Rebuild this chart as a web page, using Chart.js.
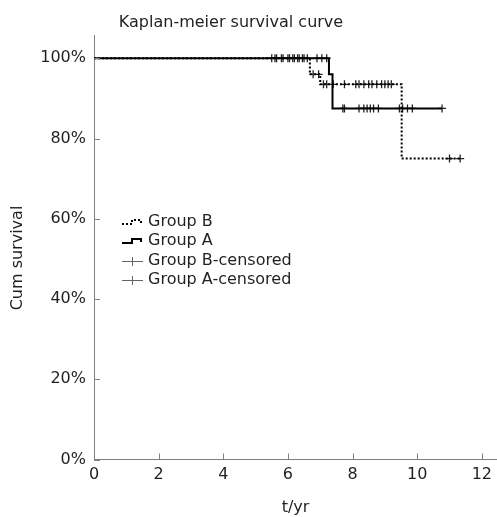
<!DOCTYPE html>
<html>
<head>
<meta charset="utf-8">
<script src="https://cdn.jsdelivr.net/npm/chart.js@4.4.0/dist/chart.umd.min.js"></script>
<style>
  html, body { margin: 0; padding: 0; background: #fff; }
  #wrap { width: 497px; height: 517px; }
</style>
</head>
<body>
<div id="wrap"><canvas id="km"></canvas></div>
<script>
// Kaplan-Meier steps (time in years, survival in %)
const groupBTime = [0, 6.68, 7.0, 9.52, 11.35];
const groupBSurv = [100, 96, 93.5, 75, 75];
const groupATime = [0, 7.27, 7.38, 10.77];
const groupASurv = [100, 96, 87.5, 87.5];

// censored cases
const censBTime = [5.5, 5.65, 5.85, 6.05, 6.2, 6.35, 6.5, 6.6,
  6.78, 6.95,
  7.1, 7.2, 7.4, 7.75, 8.1, 8.2, 8.35, 8.5, 8.6, 8.75, 8.9, 9.0, 9.1, 9.2,
  11.0, 11.33];
const censBSurv = [100, 100, 100, 100, 100, 100, 100, 100,
  96, 96,
  93.5, 93.5, 93.5, 93.5, 93.5, 93.5, 93.5, 93.5, 93.5, 93.5, 93.5, 93.5, 93.5, 93.5,
  75, 75];
const censATime = [5.6, 5.8, 6.0, 6.15, 6.3, 6.45, 6.9, 7.05, 7.2,
  7.7, 7.75, 8.2, 8.35, 8.45, 8.55, 8.65, 8.8, 9.45, 9.55, 9.7, 9.85, 10.77];
const censASurv = [100, 100, 100, 100, 100, 100, 100, 100, 100,
  87.5, 87.5, 87.5, 87.5, 87.5, 87.5, 87.5, 87.5, 87.5, 87.5, 87.5, 87.5, 87.5];

const xTicks = [0, 2, 4, 6, 8, 10, 12];
const yTicks = [0, 20, 40, 60, 80, 100];
const legendLabels = ['Group B', 'Group A', 'Group B-censored', 'Group A-censored'];
const chartTitle = 'Kaplan-meier survival curve';
const yTitle = 'Cum survival';

const txt = '#231f20';
const axisCol = '#808080';
const fam = '"DejaVu Sans", Verdana, sans-serif';

function pts(t, s) {
  return t.map((v, i) => ({ x: v, y: s[i] }));
}

// title, y title, inward tick marks and the legend inside the plot
const extras = {
  id: 'extras',
  afterDraw(chart) {
    const ctx = chart.ctx;
    const xs = chart.scales.x, ys = chart.scales.y;
    const x0 = xs.getPixelForValue(0), y0 = ys.getPixelForValue(0);
    ctx.save();
    ctx.strokeStyle = axisCol;
    ctx.lineWidth = 1;
    ctx.beginPath();
    xs.ticks.forEach(t => {
      const px = Math.round(xs.getPixelForValue(t.value)) + 0.5;
      ctx.moveTo(px, y0); ctx.lineTo(px, y0 - 6);
    });
    ys.ticks.forEach(t => {
      const py = Math.round(ys.getPixelForValue(t.value)) + 0.5;
      ctx.moveTo(x0, py); ctx.lineTo(x0 + 6, py);
    });
    ctx.stroke();

    ctx.fillStyle = txt;
    ctx.font = '16px ' + fam;
    ctx.textAlign = 'center';
    ctx.textBaseline = 'middle';
    ctx.fillText(chartTitle, 231, 23);

    ctx.save();
    ctx.translate(18, 258);
    ctx.rotate(-Math.PI / 2);
    ctx.fillText(yTitle, 0, 0);
    ctx.restore();

    // legend
    const lx = 122, tx = 148;
    const ly = [222, 241, 261, 280];
    ctx.textAlign = 'left';
    legendLabels.forEach((l, i) => ctx.fillText(l, tx, ly[i]));

    ctx.strokeStyle = '#000';
    ctx.lineWidth = 2;
    ctx.setLineDash([2, 2]);
    ctx.beginPath();
    ctx.moveTo(lx, ly[0] + 2); ctx.lineTo(lx + 10, ly[0] + 2);
    ctx.lineTo(lx + 10, ly[0] - 2); ctx.lineTo(lx + 19, ly[0] - 2); ctx.lineTo(lx + 19, ly[0] + 1);
    ctx.stroke();
    ctx.setLineDash([]);
    ctx.beginPath();
    ctx.moveTo(lx, ly[1] + 2); ctx.lineTo(lx + 10, ly[1] + 2);
    ctx.lineTo(lx + 10, ly[1] - 2); ctx.lineTo(lx + 19, ly[1] - 2); ctx.lineTo(lx + 19, ly[1] + 1);
    ctx.stroke();

    ctx.strokeStyle = '#666';
    ctx.lineWidth = 1;
    [ly[2], ly[3]].forEach(y => {
      ctx.beginPath();
      ctx.moveTo(lx, y + 0.5); ctx.lineTo(lx + 21, y + 0.5);
      ctx.moveTo(lx + 10.5, y - 4); ctx.lineTo(lx + 10.5, y + 5);
      ctx.stroke();
    });
    ctx.restore();
  }
};

const ctx = document.getElementById('km');

new Chart(ctx, {
  type: 'scatter',
  data: {
    datasets: [{
      label: legendLabels[0],
      data: pts(groupBTime, groupBSurv),
      showLine: true,
      stepped: 'before',
      borderColor: '#000',
      borderWidth: 2,
      borderDash: [2, 2],
      pointRadius: 0
    }, {
      label: legendLabels[1],
      data: pts(groupATime, groupASurv),
      showLine: true,
      stepped: 'before',
      borderColor: '#000',
      borderWidth: 2,
      pointRadius: 0
    }, {
      label: legendLabels[2],
      data: pts(censBTime, censBSurv),
      pointStyle: 'cross',
      pointRadius: 4,
      borderWidth: 1.3,
      borderColor: '#222'
    }, {
      label: legendLabels[3],
      data: pts(censATime, censASurv),
      pointStyle: 'cross',
      pointRadius: 4,
      borderWidth: 1.3,
      borderColor: '#222'
    }]
  },
  options: {
    responsive: true,
    maintainAspectRatio: false,
    animation: false,
    layout: { autoPadding: false, padding: { top: 35, right: 0, bottom: 0, left: 0 } },
    plugins: {
      legend: { display: false },
      tooltip: { enabled: false },
      title: { display: false }
    },
    scales: {
      x: {
        type: 'linear',
        min: 0,
        max: 12.47,
        afterBuildTicks: s => { s.ticks = xTicks.map(v => ({ value: v })); },
        afterFit: s => { s.height = 57.5; s.paddingLeft = 0; s.paddingRight = 0; },
        grid: { display: false },
        border: { color: axisCol, width: 1 },
        ticks: { padding: -2, color: txt, font: { family: fam, size: 16 } },
        title: {
          display: true,
          text: 't/yr',
          color: txt,
          font: { family: fam, size: 16 },
          padding: { top: 4, bottom: 0 }
        }
      },
      y: {
        min: 0,
        max: 105.8,
        afterBuildTicks: s => { s.ticks = yTicks.map(v => ({ value: v })); },
        afterFit: s => { s.width = 94; s.paddingTop = 0; s.paddingBottom = 0; },
        grid: { display: false },
        border: { color: axisCol, width: 1 },
        ticks: {
          padding: 0,
          color: txt,
          font: { family: fam, size: 16 },
          callback: v => v + '%'
        }
      }
    }
  },
  plugins: [extras]
});
</script>
</body>
</html>
